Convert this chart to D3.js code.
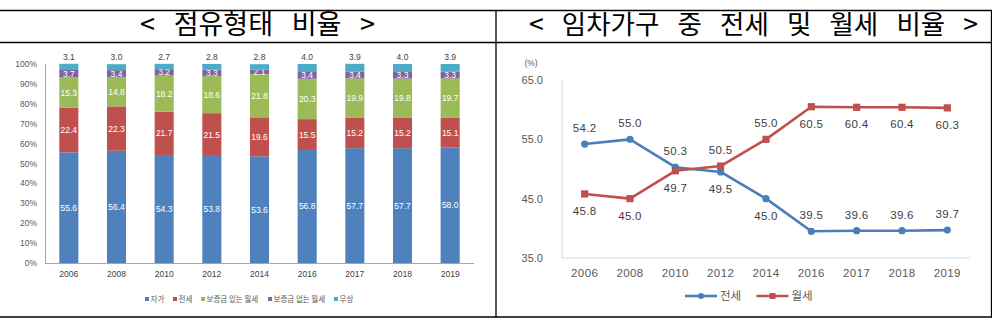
<!DOCTYPE html>
<html><head><meta charset="utf-8">
<script src="https://cdn.jsdelivr.net/npm/d3@7"></script>
<style>
html,body{margin:0;padding:0;background:#fff;}
svg{display:block;}
</style></head>
<body>
<svg id="c" width="992" height="326"></svg>
<script>
// ---- data ----
const years = ["2006","2008","2010","2012","2014","2016","2017","2018","2019"];
const tenureKeys = ["자가","전세","보증금 있는 월세","보증금 없는 월세","무상"];
const ownVals      = [55.6,56.4,54.3,53.8,53.6,56.8,57.7,57.7,58.0];
const jeonseVals   = [22.4,22.3,21.7,21.5,19.6,15.5,15.2,15.2,15.1];
const depMonthly   = [15.3,14.8,18.2,18.6,21.8,20.3,19.9,19.8,19.7];
const noDepMonthly = [3.7,3.4,3.2,3.3,2.1,3.4,3.4,3.3,3.3];
const freeVals     = [3.1,3.0,2.7,2.8,2.8,4.0,3.9,4.0,3.9];
const leftTicks = [0,10,20,30,40,50,60,70,80,90,100];

const renterKeys = ["전세","월세"];
const renterJeonse = [54.2,55.0,50.3,49.5,45.0,39.5,39.6,39.6,39.7];
const renterWolse  = [45.8,45.0,49.7,50.5,55.0,60.5,60.4,60.4,60.3];
const rightTicks = [35,45,55,65];

const titleLeft = "< 점유형태 비율 >";
const titleRight = "< 임차가구 중 전세 및 월세 비율 >";

// ---- drawing ----
const svg = d3.select("#c");
const FONT = "'Liberation Sans','Noto Sans CJK KR',sans-serif";
const KFONT = "'Noto Sans CJK KR','Noto Sans',sans-serif";

// table borders
const border = svg.append("g").attr("stroke","#000").attr("stroke-width",1.3);
border.append("line").attr("x1",0).attr("x2",992).attr("y1",10.5).attr("y2",10.5);
border.append("line").attr("x1",0).attr("x2",992).attr("y1",42.5).attr("y2",42.5);
border.append("line").attr("x1",0).attr("x2",992).attr("y1",317).attr("y2",317);
border.append("line").attr("x1",496).attr("x2",496).attr("y1",10).attr("y2",317.5);
border.append("line").attr("x1",991.5).attr("x2",991.5).attr("y1",10).attr("y2",317.5);

// titles: fit each title between its left and right ink edges
function title(txt, x0, x1, size){
  const t = svg.append("text").attr("x",x0).attr("y",34)
    .attr("font-family",KFONT).attr("font-size",size).attr("fill","#000").text(txt);
  const n = txt.split(" ").length-1;
  const w0 = t.node().getBBox().width;
  const ws = Math.max(0,(x1-x0-w0)/n);
  t.style("word-spacing",ws+"px");
  const b = t.node().getBBox();
  t.attr("x", x0 - (b.x - x0) );
}
title(titleLeft,140,375,27);
title(titleRight,529,978,26.5);

// ---------- left stacked bar chart ----------
const rows = years.map((y,i)=>({year:y,
  "자가":ownVals[i],"전세":jeonseVals[i],"보증금 있는 월세":depMonthly[i],
  "보증금 없는 월세":noDepMonthly[i],"무상":freeVals[i]}));
const colorsL = {"자가":"#4f81bd","전세":"#c0504d","보증금 있는 월세":"#9bbb59","보증금 없는 월세":"#8064a2","무상":"#4bacc6"};

const xL = d3.scaleBand().domain(years).range([45,474]).paddingInner(0.6).paddingOuter(0.3);
const yL = d3.scaleLinear().domain([0,100]).range([263,64]);
const stack = d3.stack().keys(tenureKeys)(rows);

const gL = svg.append("g");
stack.forEach(layer=>{
  const key = layer.key;
  const g = gL.append("g");
  g.selectAll("rect").data(layer).join("rect")
    .attr("x",d=>xL(d.data.year)).attr("width",xL.bandwidth())
    .attr("y",d=>yL(d[1])).attr("height",d=>yL(d[0])-yL(d[1]))
    .attr("fill",colorsL[key]);
  g.selectAll("text").data(layer).join("text")
    .attr("x",d=>xL(d.data.year)+xL.bandwidth()/2)
    .attr("y",d=> key==="무상" ? yL(d[1])-4 : (yL(d[0])+yL(d[1]))/2+3)
    .attr("text-anchor","middle")
    .attr("font-family",FONT).attr("font-size",8.5)
    .attr("fill", key==="무상" ? "#404040" : "#fff")
    .text(d=>d.data[key].toFixed(1));
});

// axes left
const axL = svg.append("g");
axL.append("line").attr("x1",45.5).attr("x2",45.5).attr("y1",yL(100)).attr("y2",yL(0)).attr("stroke","#a6a6a6");
axL.append("line").attr("x1",45).attr("x2",474).attr("y1",yL(0)+0.5).attr("y2",yL(0)+0.5).attr("stroke","#a6a6a6");
axL.selectAll("text.yt").data(leftTicks).join("text").attr("class","yt")
  .attr("x",37).attr("y",d=>yL(d)+3).attr("text-anchor","end")
  .attr("font-family",FONT).attr("font-size",8.5).attr("fill","#595959")
  .text(d=>d+"%");
axL.selectAll("text.xt").data(years).join("text").attr("class","xt")
  .attr("x",d=>xL(d)+xL.bandwidth()/2).attr("y",277).attr("text-anchor","middle")
  .attr("font-family",FONT).attr("font-size",8.5).attr("fill","#404040")
  .text(d=>d);

// left legend
const legL = svg.append("g");
const legLX = [145,173,201,268,334];
tenureKeys.forEach((k,i)=>{
  legL.append("rect").attr("x",legLX[i]).attr("y",297).attr("width",4).attr("height",4).attr("fill",colorsL[k]);
  legL.append("text").attr("x",legLX[i]+5.5).attr("y",302).attr("font-family",KFONT)
    .attr("font-size",7.5).attr("fill","#595959").text(k);
});

// ---------- right line chart ----------
const xR = d3.scalePoint().domain(years).range([562,970]).padding(0.5);
const yR = d3.scaleLinear().domain([35,65]).range([258,80]);
const colorsR = {"전세":"#4a7ebb","월세":"#c0504d"};
const seriesR = [{key:"전세",vals:renterJeonse},{key:"월세",vals:renterWolse}];

const axR = svg.append("g");
axR.append("line").attr("x1",562).attr("x2",562).attr("y1",yR(65)).attr("y2",yR(35)).attr("stroke","#d9d9d9");
axR.append("line").attr("x1",562).attr("x2",970).attr("y1",yR(35)).attr("y2",yR(35)).attr("stroke","#d9d9d9");
axR.selectAll("text.yt").data(rightTicks).join("text").attr("class","yt")
  .attr("x",543).attr("y",d=>yR(d)+4).attr("text-anchor","end")
  .attr("font-family",FONT).attr("font-size",11).attr("fill","#595959")
  .text(d=>d.toFixed(1));
axR.append("text").attr("x",531).attr("y",66).attr("text-anchor","middle")
  .attr("font-family",FONT).attr("font-size",8.5).attr("fill","#595959").text("(%)");
axR.selectAll("text.xt").data(years).join("text").attr("class","xt")
  .attr("x",d=>xR(d)).attr("y",277).attr("text-anchor","middle")
  .attr("font-family",FONT).attr("font-size",11.5).attr("fill","#595959")
  .style("letter-spacing","0.4px").text(d=>d);

const line = d3.line().x((d,i)=>xR(years[i])).y(d=>yR(d));
seriesR.forEach(s=>{
  svg.append("path").attr("d",line(s.vals)).attr("fill","none")
    .attr("stroke",colorsR[s.key]).attr("stroke-width",2.6).attr("stroke-linejoin","round");
});
seriesR.forEach((s,si)=>{
  const other = seriesR[1-si].vals;
  const g = svg.append("g");
  if(s.key==="전세"){
    g.selectAll("circle").data(s.vals).join("circle")
      .attr("cx",(d,i)=>xR(years[i])).attr("cy",d=>yR(d)).attr("r",3.6).attr("fill",colorsR[s.key]);
  } else {
    g.selectAll("rect").data(s.vals).join("rect")
      .attr("x",(d,i)=>xR(years[i])-3.6).attr("y",d=>yR(d)-3.6).attr("width",7.2).attr("height",7.2)
      .attr("fill",colorsR[s.key]);
  }
  // label: outward when the two lines are close, inward when far apart
  g.selectAll("text").data(s.vals).join("text")
    .attr("x",(d,i)=>xR(years[i])).attr("text-anchor","middle")
    .attr("y",(d,i)=>{
      const higher = d>other[i];
      const far = Math.abs(d-other[i])>15;
      const above = far ? !higher : higher;
      return above ? yR(d)-12 : yR(d)+21;
    })
    .attr("font-family",FONT).attr("font-size",11.5).attr("fill","#404040")
    .style("letter-spacing","0.3px")
    .text(d=>d.toFixed(1));
});

// right legend
const legR = svg.append("g");
const legRX = [685,756.5];
seriesR.forEach((s,i)=>{
  const x0 = legRX[i];
  legR.append("line").attr("x1",x0).attr("x2",x0+32).attr("y1",296).attr("y2",296)
    .attr("stroke",colorsR[s.key]).attr("stroke-width",2.6);
  if(i===0) legR.append("circle").attr("cx",x0+16).attr("cy",296).attr("r",3).attr("fill",colorsR[s.key]);
  else legR.append("rect").attr("x",x0+13).attr("y",293).attr("width",6).attr("height",6).attr("fill",colorsR[s.key]);
  legR.append("text").attr("x",x0+35).attr("y",300).attr("font-family",KFONT)
    .attr("font-size",11.5).attr("fill","#595959").text(s.key);
});
</script>
</body></html>
